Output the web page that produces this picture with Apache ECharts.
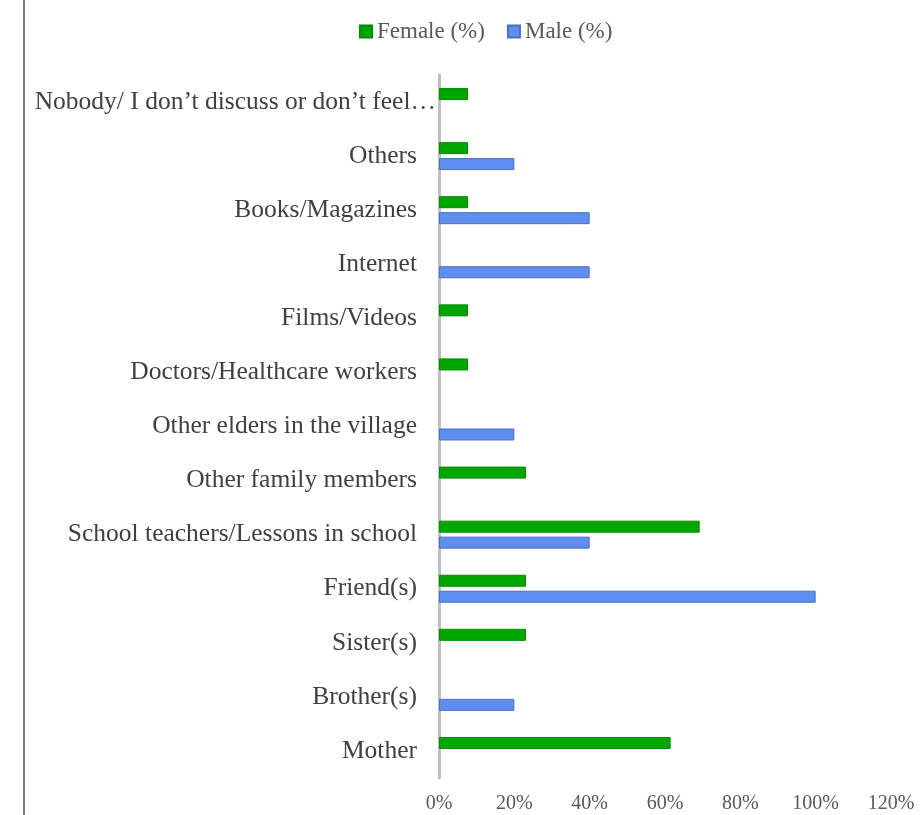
<!DOCTYPE html>
<html>
<head>
<meta charset="utf-8">
<script src="https://cdn.jsdelivr.net/npm/echarts@6/dist/echarts.min.js"></script>
<style>html,body{margin:0;padding:0;background:#fff}#c{width:923px;height:815px}</style>
</head>
<body>
<div id="c"></div>
<script>
const categories = ['Mother','Brother(s)','Sister(s)','Friend(s)','School teachers/Lessons in school','Other family members','Other elders in the village','Doctors/Healthcare workers','Films/Videos','Internet','Books/Magazines','Others','Nobody/ I don\u2019t discuss or don\u2019t feel\u2026'];
const female = [61.5, 0, 23.1, 23.1, 69.2, 23.1, 0, 7.7, 7.7, 0, 7.7, 7.7, 7.7];
const male = [0, 20, 0, 100, 40, 0, 20, 0, 0, 40, 40, 20, 0];
const xTicks = [0, 20, 40, 60, 80, 100, 120];

const chart = echarts.init(document.getElementById('c'));
const font = '"Liberation Serif", "Times New Roman", serif';
const noZero = arr => arr.map(v => (v === 0 ? null : v));
chart.setOption({
  animation: false,
  textStyle: {fontFamily: font},
  legend: {
    top: 15, left: 354,
    data: ['Female (%)', 'Male (%)'],
    itemWidth: 12, itemHeight: 12, itemGap: 22,
    textStyle: {fontFamily: font, fontSize: 23, color: '#595959'},
    icon: 'rect'
  },
  graphic: [{
    type: 'line', shape: {x1: 24, y1: 0, x2: 24, y2: 815},
    style: {stroke: '#7f7f7f', lineWidth: 2}
  }],
  grid: {left: 439, right: 32, top: 75, bottom: 37, containLabel: false},
  xAxis: {
    type: 'value', min: xTicks[0], max: xTicks[xTicks.length - 1], interval: 20,
    axisLine: {show: false}, axisTick: {show: false}, splitLine: {show: false},
    axisLabel: {formatter: '{value}%', fontFamily: font, fontSize: 20, color: '#595959', margin: 16}
  },
  yAxis: {
    type: 'category',
    data: categories.map((c, i) => i === categories.length - 1 ? {value: c, textStyle: {padding: [0, -19, 0, 0]}} : c),
    axisLine: {show: true, lineStyle: {color: '#bfbfbf', width: 3}},
    axisTick: {show: false},
    axisLabel: {fontFamily: font, fontSize: 25.5, color: '#404040', margin: 22}
  },
  series: [
    {name: 'Female (%)', type: 'bar', data: noZero(female), barWidth: 12, barGap: '33%',
     itemStyle: {color: '#00a600', borderColor: '#008a00', borderWidth: 1}},
    {name: 'Male (%)', type: 'bar', data: noZero(male), barWidth: 12, barGap: '33%',
     itemStyle: {color: '#5f8ef0', borderColor: '#4a6fc4', borderWidth: 1}}
  ]
});
</script>
</body>
</html>
